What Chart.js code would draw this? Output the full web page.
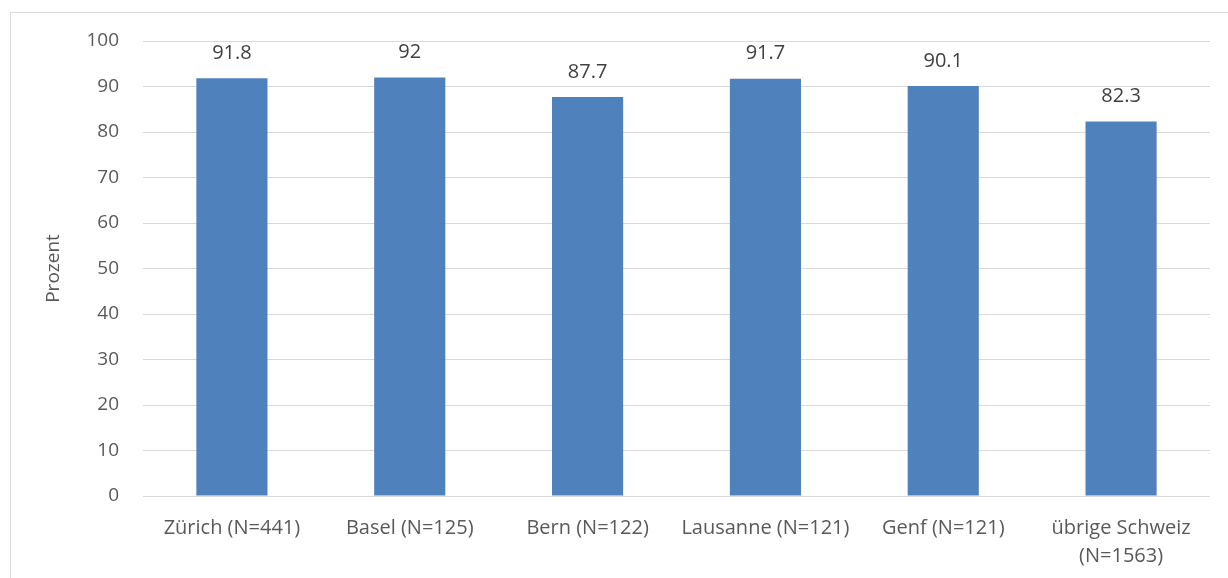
<!DOCTYPE html>
<html>
<head>
<meta charset="utf-8">
<script src="https://cdn.jsdelivr.net/npm/chart.js@4/dist/chart.umd.min.js"></script>
<style>
  html, body { margin: 0; padding: 0; background: #fff; }
  #wrap { width: 1228px; height: 578px; position: relative; }
</style>
</head>
<body>
<div id="wrap"><canvas id="my-chart"></canvas></div>
<script>
const categories = ['Zürich (N=441)', 'Basel (N=125)', 'Bern (N=122)', 'Lausanne (N=121)', 'Genf (N=121)', ['übrige Schweiz', '(N=1563)']];
const values = [91.8, 92, 87.7, 91.7, 90.1, 82.3];
const yTicks = [0, 10, 20, 30, 40, 50, 60, 70, 80, 90, 100];

const fontFamily = "'Open Sans', 'Liberation Sans', sans-serif";

// frame around the whole chart, like the office chart border
const framePlugin = {
  id: 'frame',
  beforeDraw(chart) {
    const c = chart.ctx;
    c.save();
    c.fillStyle = '#fff';
    c.fillRect(0, 0, chart.width, chart.height);
    c.strokeStyle = '#d9d9d9';
    c.lineWidth = 1;
    c.strokeRect(10.5, 12.5, chart.width + 10, chart.height + 10);
    c.restore();
  }
};

// value labels above each bar
const valueLabels = {
  id: 'valueLabels',
  afterDatasetsDraw(chart) {
    const c = chart.ctx;
    const meta = chart.getDatasetMeta(0);
    c.save();
    c.font = '20px ' + fontFamily;
    c.fillStyle = '#404040';
    c.textAlign = 'center';
    c.textBaseline = 'middle';
    meta.data.forEach((bar, i) => {
      c.fillText(String(values[i]), bar.x, bar.y - 25);
    });
    c.restore();
  }
};

const ctx = document.getElementById('my-chart');
const myChart = new Chart(ctx, {
  type: 'bar',
  data: {
    labels: categories,
    datasets: [
      {
        label: 'Prozent',
        data: values,
        backgroundColor: '#4f81bd',
        categoryPercentage: 1,
        barPercentage: 0.4
      }
    ]
  },
  options: {
    responsive: true,
    maintainAspectRatio: false,
    animation: false,
    layout: {
      padding: { left: 42, top: 41, right: 18, bottom: 0 }
    },
    plugins: {
      legend: { display: false },
      tooltip: { enabled: false }
    },
    scales: {
      x: {
        grid: { display: false },
        border: { display: false },
        ticks: {
          color: '#595959',
          font: { family: fontFamily, size: 20, lineHeight: 1.4 },
          padding: 10,
          maxRotation: 0,
          autoSkip: false
        },
        afterFit(scale) { scale.height = 82; }
      },
      y: {
        min: 0,
        max: 100,
        afterBuildTicks(scale) { scale.ticks = yTicks.map(v => ({ value: v })); },
        grid: { color: '#d9d9d9', lineWidth: 1, drawTicks: false },
        border: { display: false },
        ticks: {
          color: '#595959',
          font: { family: fontFamily, size: 19 },
          padding: 24
        },
        title: {
          display: true,
          text: 'Prozent',
          color: '#595959',
          font: { family: fontFamily, size: 19 },
          padding: 0
        },
        afterFit(scale) { scale.width = 101; }
      }
    }
  },
  plugins: [framePlugin, valueLabels]
});
</script>
</body>
</html>
